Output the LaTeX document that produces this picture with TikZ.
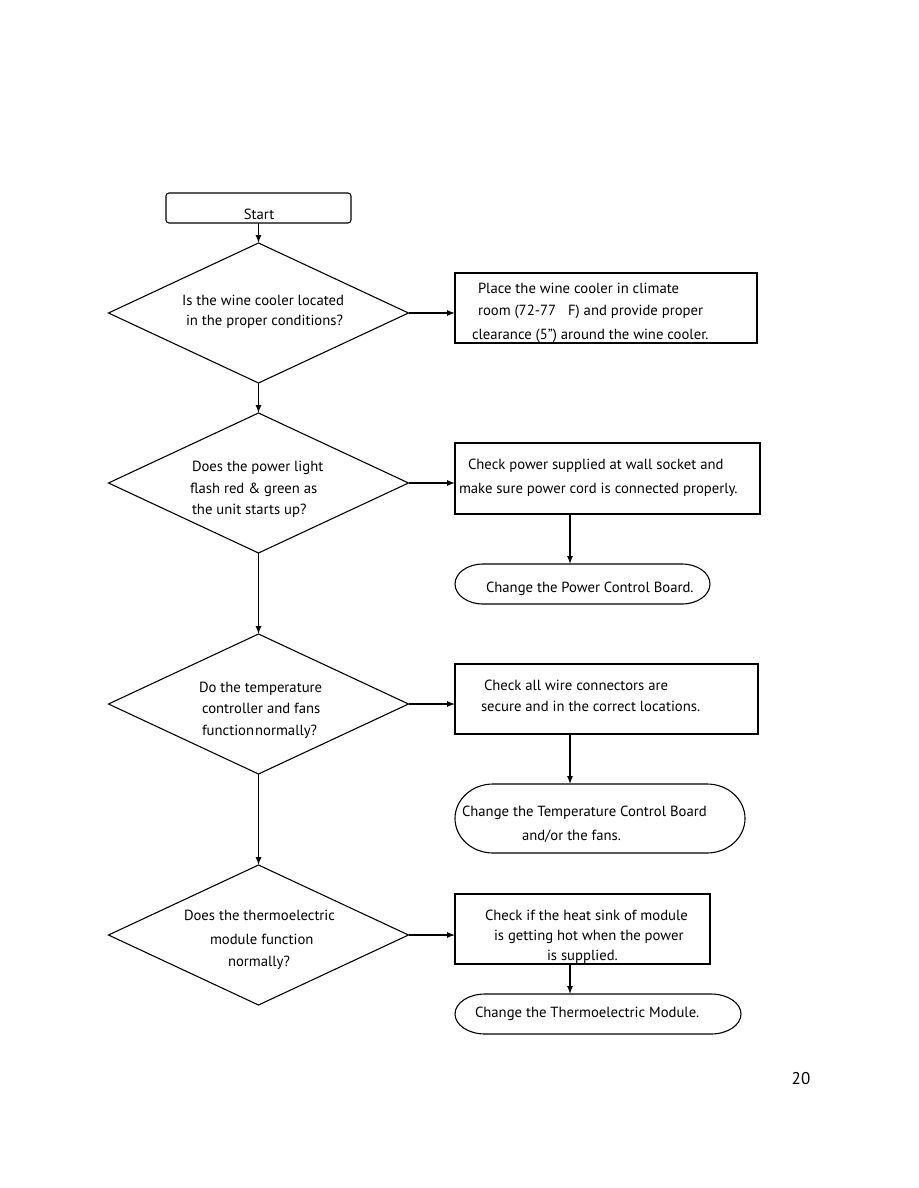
\documentclass[tikz,border=0pt]{standalone}
\usepackage{fontspec}
\setmainfont{PT Sans}
\usetikzlibrary{arrows.meta,shapes.geometric}
\begin{document}
\begin{tikzpicture}[x=1pt,y=-1pt,
  every node/.style={inner sep=0pt, outer sep=0pt},
  ln/.style={line width=1.1pt},
  arr/.style={ln, -{Latex[length=8pt,width=6pt]}},
  box/.style={draw, ln, rectangle},
  dec/.style={draw, ln, diamond, minimum width=300pt, minimum height=140pt, aspect=2.14},
  term/.style={rectangle, draw=none},
  txt/.style={anchor=west, text height=10pt, text depth=0pt, font=\fontsize{14.7}{17}\selectfont}]
\useasboundingbox (0,0) rectangle (918,1188);
% start
\node[box, rounded corners=3pt, minimum width=185pt, minimum height=30pt] (start) at (258.5,208) {};
\node[txt, anchor=center] (startT) at (259,214) {Start};
% decisions
\node[dec] (d1) at (258.5,313) {};
\node[dec] (d2) at (258.5,483) {};
\node[dec] (d3) at (258.5,704) {};
\node[dec] (d4) at (258.5,935) {};
% boxes
\node[box, minimum width=302pt, minimum height=70pt] (b1) at (606,308) {};
\node[box, minimum width=305pt, minimum height=71pt] (b2) at (607.5,478.5) {};
\node[box, minimum width=303pt, minimum height=70pt] (b3) at (606.5,699) {};
\node[box, minimum width=255pt, minimum height=70pt] (b4) at (582.5,929) {};
% terminators
\node[term, minimum width=255pt, minimum height=40pt] (t1) at (582.5,584) {};
\node[term, minimum width=290pt, minimum height=69pt] (t2) at (600,818.5) {};
\node[term, minimum width=286pt, minimum height=40pt] (t3) at (598,1014) {};
\draw[ln] ([xshift=28pt]t1.north west) -- ([xshift=-28pt]t1.north east) arc[start angle=-90,end angle=90,x radius=28,y radius=20] -- ([xshift=28pt]t1.south west) arc[start angle=90,end angle=270,x radius=28,y radius=20] -- cycle;
\draw[ln] ([xshift=38pt]t2.north west) -- ([xshift=-38pt]t2.north east) arc[start angle=-90,end angle=90,x radius=38,y radius=34.5] -- ([xshift=38pt]t2.south west) arc[start angle=90,end angle=270,x radius=38,y radius=34.5] -- cycle;
\draw[ln] ([xshift=30pt]t3.north west) -- ([xshift=-30pt]t3.north east) arc[start angle=-90,end angle=90,x radius=30,y radius=20] -- ([xshift=30pt]t3.south west) arc[start angle=90,end angle=270,x radius=30,y radius=20] -- cycle;
% texts
\node[txt] (d1a) at (182,300) {Is the wine cooler located};
\node[txt] (d1b) at (186,320) {in the proper conditions?};
\node[txt] (b1a) at (478,288) {Place the wine cooler in climate};
\node[txt] (b1b) at (478,310) {room (72-77\hspace{12pt}F) and provide proper};
\node[txt] (b1c) at (472,334) {clearance (5”) around the wine cooler.};
\node[txt] (d2a) at (192,466) {Does the power light};
\node[txt] (d2b) at (190,488) {flash red \& green as};
\node[txt] (d2c) at (192,509) {the unit starts up?};
\node[txt] (b2a) at (468,464) {Check power supplied at wall socket and};
\node[txt] (b2b) at (459,488) {make sure power cord is connected properly.};
\node[txt] (t1a) at (486,587) {Change the Power Control Board.};
\node[txt] (d3a) at (199,687) {Do the temperature};
\node[txt] (d3b) at (202,708) {controller and fans};
\node[txt] (d3c) at (202,730) {function\hspace{1pt}normally?};
\node[txt] (b3a) at (484,685) {Check all wire connectors are};
\node[txt] (b3b) at (481,706) {secure and in the correct locations.};
\node[txt] (t2a) at (462,811) {Change the Temperature Control Board};
\node[txt] (t2b) at (522,835) {and/or the fans.};
\node[txt] (d4a) at (184,915) {Does the thermoelectric};
\node[txt] (d4b) at (210,939) {module function};
\node[txt] (d4c) at (228,961) {normally?};
\node[txt] (b4a) at (485,915) {Check if the heat sink of module};
\node[txt] (b4b) at (494,935) {is getting hot when the power};
\node[txt] (b4c) at (547,955) {is supplied.};
\node[txt] (t3a) at (475,1012) {Change the Thermoelectric Module.};
\node[anchor=center, font=\fontsize{17}{20}\selectfont] (page) at (801,1079) {20};
% connectors
\coordinate (cx) at (570,0);
\draw[arr] (start.south) -- (d1.north);
\draw[arr] (d1.south) -- (d2.north);
\draw[arr] (d2.south) -- (d3.north);
\draw[arr] (d3.south) -- (d4.north);
\draw[arr] (d1.east) -- (d1.east -| b1.west);
\draw[arr] (d2.east) -- (d2.east -| b2.west);
\draw[arr] (d3.east) -- (d3.east -| b3.west);
\draw[arr] (d4.east) -- (d4.east -| b4.west);
\draw[arr] (cx |- b2.south) -- (cx |- t1.north);
\draw[arr] (cx |- b3.south) -- (cx |- t2.north);
\draw[arr] (cx |- b4.south) -- (cx |- t3.north);
\end{tikzpicture}
\end{document}
